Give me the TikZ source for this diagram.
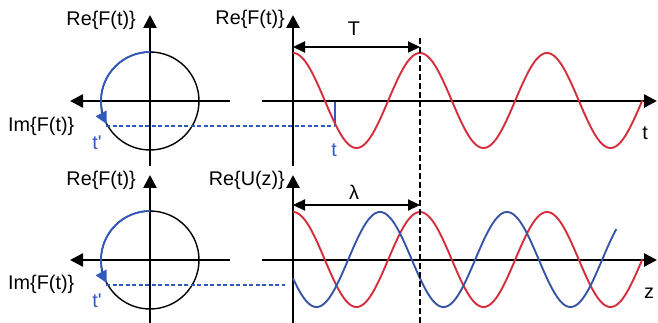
\documentclass[tikz,border=0pt]{standalone}
\usepackage{fontspec}
\setmainfont{Liberation Sans}
\usetikzlibrary{arrows.meta}
\definecolor{wred}{RGB}{214,45,60}
\definecolor{wblue}{RGB}{55,85,165}
\definecolor{lblue}{RGB}{50,90,190}
\tikzset{
  axis/.style={line width=2.6pt,-{Triangle[length=13pt,width=13pt]}},
  ring/.style={line width=1.4pt},
  redwave/.style={wred,line width=1.9pt},
  bluewave/.style={wblue,line width=1.9pt},
  phasor/.style={lblue,line width=1.8pt,-{Triangle[length=12pt,width=12pt]}},
  proj/.style={lblue,line width=1.4pt,dash pattern=on 4pt off 2.5pt},
  guide/.style={black,line width=1.6pt,dash pattern=on 6pt off 3pt},
  span/.style={line width=2.2pt,{Triangle[length=12pt,width=11pt]}-{Triangle[length=12pt,width=11pt]}},
  lbl/.style={inner sep=0pt,font=\fontsize{19.8}{22}\selectfont},
  blbl/.style={lbl,text=lblue}
}
\begin{document}
\begin{tikzpicture}[x=1pt,y=-1pt]
\useasboundingbox (0,0) rectangle (658,323);
% ---------- top panel ----------
\coordinate (c1) at (150,101);
\coordinate (c1b) at (150,166);
\coordinate (c1t) at (150,15);
\coordinate (c1r) at (230,101);
\coordinate (c1l) at (70,101);
\draw[ring] (c1) circle[radius=49];
\draw[axis] (c1b) -- (c1t);
\draw[axis] (c1r) -- (c1l);
\draw[phasor] (150,52) arc[start angle=-90,end angle=-208,radius=49];
\coordinate (p1) at (106,126);
\coordinate (q1) at (335,126);
\coordinate (q1a) at (335,101);
\draw[proj] (p1) -- (q1);
\draw[lblue,line width=1.2pt] (q1a) -- (q1);

\coordinate (o1) at (293,166);
\coordinate (o1t) at (293,15);
\coordinate (x1s) at (262,101);
\coordinate (x1e) at (657,101);
\draw[axis] (o1) -- (o1t);
\draw[axis] (x1s) -- (x1e);
\draw[redwave] plot[domain=0:990,samples=220,smooth] ({293+\x/360*127},{100.5-47.5*cos(\x)});

\coordinate (ta) at (293,47);
\coordinate (tb) at (420,47);
\draw[span] (ta) -- (tb);
\node[lbl] (T) at (354,29) {T};

\node[lbl,anchor=east] (re1) at (136,20) {Re\{F(t)\}};
\node[lbl,anchor=east] (re2) at (285,19) {Re\{F(t)\}};
\node[lbl,anchor=west] (im1) at (8,126) {Im\{F(t)\}};
\node[blbl] (tp1) at (97,143) {t\textquotesingle};
\node[blbl] (t1) at (334,150) {t};
\node[lbl] (tax) at (645,133) {t};

% ---------- bottom panel ----------
\coordinate (c2) at (150,260);
\coordinate (c2b) at (150,323);
\coordinate (c2t) at (150,175);
\coordinate (c2r) at (230,260);
\coordinate (c2l) at (70,260);
\draw[ring] (c2) circle[radius=49];
\draw[axis] (c2b) -- (c2t);
\draw[axis] (c2r) -- (c2l);
\draw[phasor] (150,211) arc[start angle=-90,end angle=-208,radius=49];
\coordinate (p2) at (106,285);
\coordinate (q2) at (285,285);
\draw[proj] (p2) -- (q2);

\coordinate (o2) at (293,323);
\coordinate (o2t) at (293,175);
\coordinate (x2s) at (262,260);
\coordinate (x2e) at (657,260);
\draw[axis] (o2) -- (o2t);
\draw[axis] (x2s) -- (x2e);
\draw[redwave] plot[domain=0:990,samples=220,smooth] ({293+\x/360*127},{259.5-47.5*cos(\x)});
\draw[bluewave] plot[domain=-246.6:670,samples=220,smooth] ({380+\x/360*127},{259.5-47.5*cos(\x)});

\coordinate (la) at (293,205);
\coordinate (lb) at (420,205);
\draw[span] (la) -- (lb);
\node[lbl] (lam) at (354,192) {λ};

\node[lbl,anchor=east] (re3) at (136,180) {Re\{F(t)\}};
\node[lbl,anchor=east] (re4) at (285,180) {Re\{U(z)\}};
\node[lbl,anchor=west] (im2) at (8,284) {Im\{F(t)\}};
\node[blbl] (tp2) at (97,301) {t\textquotesingle};
\node[lbl] (zax) at (649,293) {z};

% guide line
\coordinate (ga) at (420,38);
\coordinate (gb) at (420,323);
\draw[guide] (ga) -- (gb);
\end{tikzpicture}
\end{document}
